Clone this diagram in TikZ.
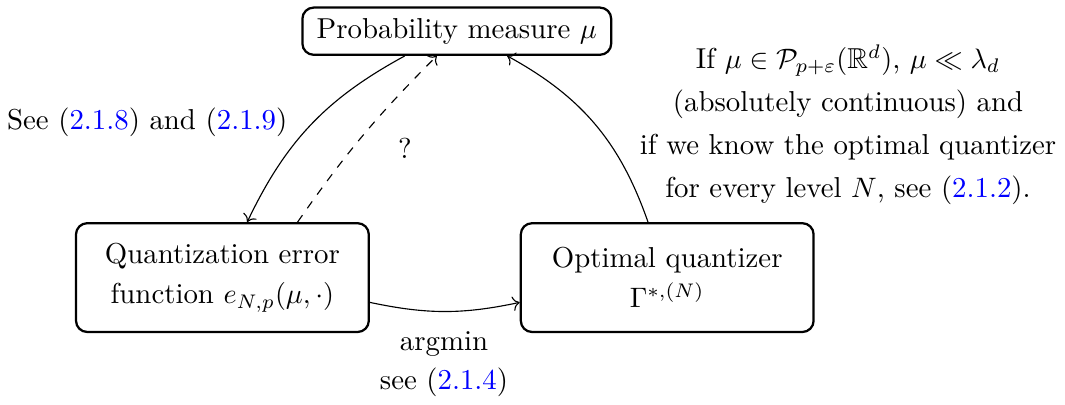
\documentclass[tikz,border=0pt]{standalone}
\usepackage{amsmath,amssymb}
\usepackage{xcolor}
\usepackage{tikz}
\usetikzlibrary{
  arrows.meta,
  positioning,
  calc
}
\newcommand{\eqlink}[1]{(\textcolor{blue}{#1})}

\begin{document}
\begin{tikzpicture}[
  every node/.append style={font=\fontsize{10.25}{12.3}\selectfont},
  topB/.style={
    draw, thick, rounded corners=4pt, minimum width=3.86cm, minimum height=0.59cm,
    align=center,
  },
  stateB/.style={
    draw, thick, rounded corners=4pt, minimum width=3.66cm, minimum height=1.36cm,
    align=center,
  },
]
\useasboundingbox (0,0) rectangle (13.3125,-5.0625);

% Boxes
\node[topB] (mu) at (5.71,-0.39) {Probability measure $\mu$};
\node[stateB] (err) at (2.78,-3.47) {Quantization error\\[2pt] function $e_{N,p}(\mu,\cdot)$};
\node[stateB] (opt) at (8.34,-3.47) {Optimal quantizer\\[2pt] $\Gamma^{*,(N)}$};

% Arrows
\draw[->] ([xshift=-0.65cm]mu.south) to[bend right=18] ([xshift=0.31cm]err.north);
\draw[->, dashed] ([xshift=0.94cm]err.north) to[bend left=5] ([xshift=-0.25cm]mu.south);
\draw[->] ([xshift=-0.24cm]opt.north) to[bend right=21] ([xshift=0.63cm]mu.south);
\draw[->] ([yshift=-0.31cm]err.east) to[bend right=12] ([yshift=-0.31cm]opt.west);

% Labels
\node (see) at (1.84,-1.53) {See \eqlink{2.1.8} and \eqlink{2.1.9}};
\node (qmark) at (5.06,-1.85) {?};
\node[align=center] (cond) at (10.6,-1.56) {If $\mu\in\mathcal{P}_{p+\varepsilon}(\mathbb{R}^d)$, $\mu\ll\lambda_d$\\[3pt]
  (absolutely continuous) and\\[3pt]
  if we know the optimal quantizer\\[3pt]
  for every level $N$, see \eqlink{2.1.2}.};
\node[align=center] (argm) at (5.55,-4.55) {argmin\\[1.6pt] see \eqlink{2.1.4}};

\end{tikzpicture}
\end{document}
